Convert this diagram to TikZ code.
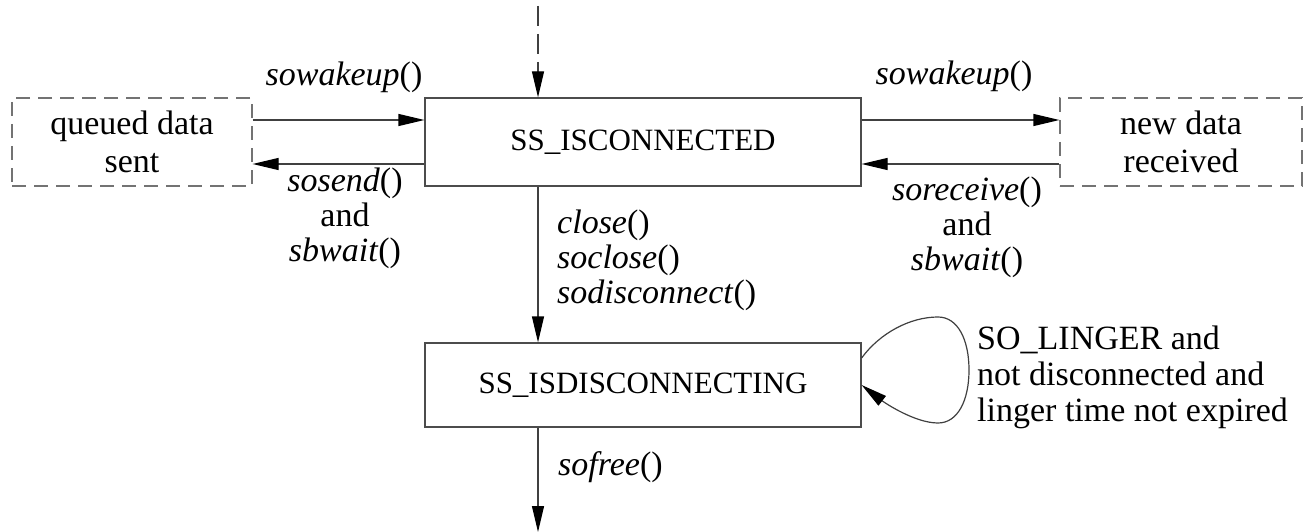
\documentclass[tikz,border=0pt]{standalone}
\usepackage{fontspec}
\setmainfont{Liberation Serif}
\usetikzlibrary{arrows.meta,calc}
\tikzset{
  stbox/.style={draw=black!70, line width=1.2pt, inner sep=0pt, align=center, font=\fontsize{31}{36}\selectfont},
  dbox/.style={draw=black!55, line width=1.2pt, dash pattern=on 14pt off 8pt, inner sep=0pt, align=center, font=\fontsize{34}{38}\selectfont},
  conn/.style={draw=black!75, line width=1.2pt, -{Triangle[length=26pt,width=12pt,black]}},
  lbl/.style={inner sep=0pt, font=\fontsize{34}{35}\selectfont},
}
\newcommand{\fn}[1]{\textit{#1}()}
\begin{document}
\begin{tikzpicture}[x=1pt,y=-1pt]
\useasboundingbox (0,0) rectangle (1306,532);
\node[stbox, minimum width=436pt, minimum height=88pt] (c) at (643,142) {SS\_ISCONNECTED};
\node[stbox, minimum width=436pt, minimum height=84pt] (d) at (643,385) {SS\_ISDISCONNECTING};
\node[dbox, minimum width=240pt, minimum height=88pt] (q) at (132,142) {queued data\\sent};
\node[dbox, minimum width=242pt, minimum height=88pt] (r) at (1181,142) {new data\\received};
\coordinate (top) at (538,6);
\coordinate (bot) at (538,532);
% connectors
\draw[conn, dash pattern=on 20pt off 8pt] (top) -- ([xshift=-105pt]c.north);
\draw[conn] ([yshift=22pt]q.east) -- ([yshift=22pt]c.west);
\draw[conn] ([yshift=-22pt]c.west) -- ([yshift=-22pt]q.east);
\draw[conn] ([yshift=22pt]c.east) -- ([yshift=22pt]r.west);
\draw[conn] ([yshift=-22pt]r.west) -- ([yshift=-22pt]c.east);
\draw[conn] ([xshift=-105pt]c.south) -- ([xshift=-105pt]d.north);
\draw[conn] ([xshift=-105pt]d.south) -- (bot);
\draw[conn] ([yshift=27pt]d.east) .. controls (880,333) and (910,317) .. (938,317)
  .. controls (958,317) and (969,340) .. (969,370)
  .. controls (969,400) and (958,423) .. (938,423)
  .. controls (915,423) and (885,403) .. ([yshift=0pt]d.east);
% labels
\node[lbl] (l1) at (344,77) {\fn{sowakeup}};
\node[lbl] (l2) at (954,76) {\fn{sowakeup}};
\node[lbl, align=center] (l3) at (345,218) {\fn{sosend}\\and\\\fn{sbwait}};
\node[lbl, align=center] (l4) at (967,227) {\fn{soreceive}\\and\\\fn{sbwait}};
\node[lbl, align=left, anchor=west] (l5) at (557,260) {\fn{close}\\\fn{soclose}\\\fn{sodisconnect}};
\node[lbl, anchor=west] (l6) at (558,467) {\fn{sofree}};
\node[lbl, align=left, anchor=west, font=\fontsize{34}{36}\selectfont] (l7) at (977,377) {SO\_LINGER and\\not disconnected and\\linger time not expired};
\end{tikzpicture}
\end{document}
